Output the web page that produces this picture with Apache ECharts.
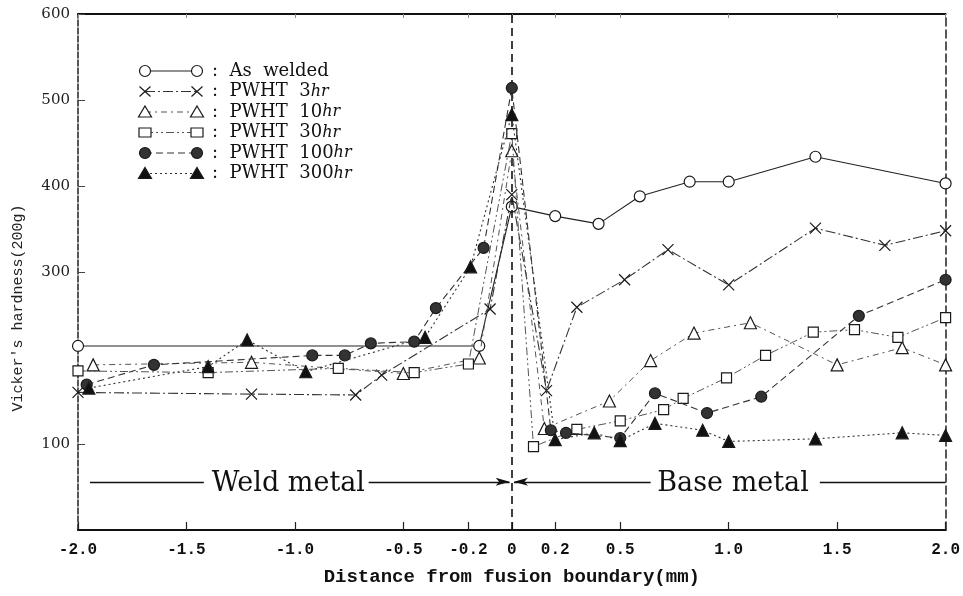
<!DOCTYPE html>
<html>
<head>
<meta charset="utf-8">
<script src="https://cdn.jsdelivr.net/npm/echarts@6/dist/echarts.min.js"></script>
<style>
  html, body { margin: 0; padding: 0; background: #fff; }
  #chart { width: 963px; height: 596px; }
</style>
</head>
<body>
<div id="chart"></div>
<script>
// Axis ticks
const xTicks = [-2, -1.5, -1, -0.5, -0.2, 0, 0.2, 0.5, 1, 1.5, 2];
const yTicks = [100, 300, 400, 500, 600];

// Hardness profiles across the fusion boundary (distance in mm, HV 200g)
const asWeldedX = [-2.0, -0.15, 0, 0.2, 0.4, 0.59, 0.82, 1.0, 1.4, 2.0];
const asWeldedY = [214, 214, 376, 365, 356, 388, 405, 405, 434, 403];

const pwht3X = [-2.0, -1.2, -0.72, -0.6, -0.1, 0, 0.16, 0.3, 0.52, 0.72, 1.0, 1.4, 1.72, 2.0];
const pwht3Y = [160, 158, 157, 180, 257, 390, 162, 259, 291, 326, 285, 351, 331, 348];

const pwht10X = [-1.93, -1.2, -0.5, -0.15, 0, 0.15, 0.45, 0.64, 0.84, 1.1, 1.5, 1.8, 2.0];
const pwht10Y = [192, 195, 182, 200, 441, 118, 150, 197, 229, 241, 192, 212, 192];

const pwht30X = [-2.0, -1.4, -0.8, -0.45, -0.2, 0, 0.1, 0.3, 0.5, 0.7, 0.79, 0.99, 1.17, 1.39, 1.58, 1.78, 2.0];
const pwht30Y = [185, 183, 188, 183, 193, 461, 97, 117, 127, 140, 153, 177, 203, 230, 233, 224, 247];

const pwht100X = [-1.96, -1.65, -0.92, -0.77, -0.65, -0.45, -0.35, -0.13, 0, 0.18, 0.25, 0.5, 0.66, 0.9, 1.15, 1.6, 2.0];
const pwht100Y = [169, 192, 203, 203, 217, 219, 258, 328, 514, 116, 113, 107, 159, 136, 155, 249, 291];

const pwht300X = [-1.95, -1.4, -1.22, -0.95, -0.4, -0.19, 0, 0.2, 0.38, 0.5, 0.66, 0.88, 1.0, 1.4, 1.8, 2.0];
const pwht300Y = [165, 190, 221, 184, 224, 306, 483, 105, 113, 104, 124, 116, 103, 106, 113, 110];

const legendLabels = ['As welded', 'PWHT  3', 'PWHT  10', 'PWHT  30', 'PWHT  100', 'PWHT  300'];

const INK = '#1a1a1a';
const crossPath = 'path://M0,0L10,10M10,0L0,10';

const styles = [
  { symbol: 'circle', size: 11, fill: '#fff', dash: 'solid', lineColor: '#222', width: 1.1 },
  { symbol: crossPath, size: 11, fill: 'none', dash: [10, 3, 2, 3], lineColor: '#333', width: 1.1 },
  { symbol: 'triangle', size: 12, fill: '#fff', dash: [6, 4, 2, 4], lineColor: '#555', width: 1 },
  { symbol: 'rect', size: 10, fill: '#fff', dash: [8, 3, 2, 3, 2, 3], lineColor: '#555', width: 1 },
  { symbol: 'circle', size: 11, fill: '#333', dash: [7, 4], lineColor: '#333', width: 1.1 },
  { symbol: 'triangle', size: 12, fill: '#111', dash: [2, 3], lineColor: '#333', width: 1.1 }
];

const xs = [asWeldedX, pwht3X, pwht10X, pwht30X, pwht100X, pwht300X];
const ys = [asWeldedY, pwht3Y, pwht10Y, pwht30Y, pwht100Y, pwht300Y];

const zip = (a, b) => a.map((v, i) => [v, b[i]]);

const series = xs.map((x, i) => {
  const s = styles[i];
  return {
    name: legendLabels[i],
    type: 'line',
    data: zip(x, ys[i]),
    symbol: s.symbol,
    symbolSize: s.size,
    showSymbol: true,
    showAllSymbol: true,
    lineStyle: { color: s.lineColor, width: s.width, type: s.dash },
    itemStyle: { color: s.fill, borderColor: INK, borderWidth: 1.2 },
    z: 3 + i,
    animation: false
  };
});

// Region annotations: fusion boundary, weld / base metal bands
const bandY = 56;
series.push({
  name: 'regions',
  type: 'line',
  data: [],
  silent: true,
  animation: false,
  markLine: {
    silent: true,
    symbol: ['none', 'none'],
    label: { show: false },
    animation: false,
    data: [
      [{ xAxis: 0, yAxis: 0, lineStyle: { type: [8, 5], width: 1.6, color: '#111' } },
       { xAxis: 0, yAxis: 600 }],
      [{ coord: [-1.945, bandY], lineStyle: { type: 'solid', width: 1.3, color: '#111' } },
       { coord: [-1.42, bandY] }],
      [{ coord: [-0.66, bandY], lineStyle: { type: 'solid', width: 1.3, color: '#111' } },
       { coord: [-0.01, bandY], symbol: 'arrow', symbolSize: [6, 14] }],
      [{ coord: [0.01, bandY], symbol: 'arrow', symbolSize: [6, 14], lineStyle: { type: 'solid', width: 1.3, color: '#111' } },
       { coord: [0.64, bandY] }],
      [{ coord: [1.42, bandY], lineStyle: { type: 'solid', width: 1.3, color: '#111' } },
       { coord: [2.0, bandY] }]
    ]
  },
  markPoint: {
    silent: true,
    animation: false,
    symbol: 'circle',
    symbolSize: 1,
    itemStyle: { color: 'rgba(0,0,0,0)' },
    label: {
      show: true,
      position: 'inside',
      color: '#111',
      fontFamily: 'DejaVu Serif',
      fontSize: 27
    },
    data: [
      { coord: [-1.03, bandY - 2], value: 'Weld metal', label: { formatter: 'Weld metal' } },
      { coord: [1.02, bandY - 2], value: 'Base metal', label: { formatter: 'Base metal' } }
    ]
  }
});

// Legend drawn as marker—line—marker samples
const legendGraphics = [];
const lgX1 = 145, lgX2 = 197, lgTop = 71, lgStep = 20.5;
function markerShape(i, cx, cy) {
  const s = styles[i];
  const stroke = INK;
  if (i === 0 || i === 4) {
    return [{ type: 'circle', shape: { cx, cy, r: 5.5 }, style: { fill: s.fill, stroke, lineWidth: 1.2 }, z: 10 }];
  }
  if (i === 1) {
    return [
      { type: 'line', shape: { x1: cx - 5.5, y1: cy - 5, x2: cx + 5.5, y2: cy + 5 }, style: { stroke, lineWidth: 1.2 }, z: 10 },
      { type: 'line', shape: { x1: cx - 5.5, y1: cy + 5, x2: cx + 5.5, y2: cy - 5 }, style: { stroke, lineWidth: 1.2 }, z: 10 }
    ];
  }
  if (i === 2 || i === 5) {
    return [{ type: 'polygon', shape: { points: [[cx, cy - 6], [cx + 6.5, cy + 5], [cx - 6.5, cy + 5]] }, style: { fill: s.fill, stroke, lineWidth: 1.2 }, z: 10 }];
  }
  return [{ type: 'rect', shape: { x: cx - 6, y: cy - 4.5, width: 12, height: 9 }, style: { fill: s.fill, stroke, lineWidth: 1.2 }, z: 10 }];
}
styles.forEach((s, i) => {
  const cy = lgTop + i * lgStep;
  legendGraphics.push({
    type: 'line',
    shape: { x1: lgX1, y1: cy, x2: lgX2, y2: cy },
    style: { stroke: s.lineColor, lineWidth: 1.2, lineDash: s.dash === 'solid' ? null : s.dash },
    z: 9
  });
  legendGraphics.push(...markerShape(i, lgX1, cy), ...markerShape(i, lgX2, cy));
  const label = i === 0
    ? ':  {n|As  welded}'
    : ':  {n|' + legendLabels[i] + '}{i|hr}';
  legendGraphics.push({
    type: 'text',
    x: 212, y: cy,
    style: {
      text: label,
      fill: '#111',
      font: '18px "DejaVu Serif"',
      verticalAlign: 'middle',
      rich: {
        n: { fontFamily: 'DejaVu Serif', fontSize: 18, fill: '#111' },
        i: { fontFamily: 'DejaVu Serif', fontSize: 16, fontStyle: 'italic', fill: '#111' }
      }
    },
    z: 10
  });
});

// Rotated y-axis title
legendGraphics.push({
  type: 'text',
  x: 18, y: 308,
  rotation: Math.PI / 2,
  style: {
    text: "Vicker's hardness(200g)",
    font: '15px "Liberation Mono"',
    fill: '#222',
    align: 'center',
    verticalAlign: 'middle'
  }
});

const chart = echarts.init(document.getElementById('chart'), null, { renderer: 'canvas' });
chart.setOption({
  animation: false,
  backgroundColor: '#fff',
  grid: { left: 78, right: 15, top: 14, bottom: 66, containLabel: false },
  xAxis: [
    {
      type: 'value', min: -2, max: 2, position: 'bottom',
      name: 'Distance from fusion boundary(mm)',
      nameLocation: 'middle', nameGap: 38,
      nameTextStyle: { fontFamily: 'Liberation Mono', fontWeight: 'bold', fontSize: 19, color: '#111' },
      axisLine: { show: true, onZero: false, lineStyle: { color: '#111', width: 2 } },
      axisTick: { show: true, inside: true, length: 8, customValues: xTicks, lineStyle: { color: '#222', width: 1.2 } },
      axisLabel: {
        customValues: xTicks,
        margin: 12,
        fontFamily: 'Liberation Mono', fontWeight: 'bold', fontSize: 16, color: '#111',
        formatter: v => (Math.abs(v) < 1e-9 ? '0' : v.toFixed(1))
      },
      splitLine: { show: false }
    },
    {
      type: 'value', min: -2, max: 2, position: 'top',
      axisLine: { show: true, onZero: false, lineStyle: { color: '#111', width: 2 } },
      axisTick: { show: true, inside: true, length: 4, customValues: xTicks, lineStyle: { color: '#888', width: 1 } },
      axisLabel: { show: false },
      splitLine: { show: false }
    }
  ],
  yAxis: [
    {
      type: 'value', min: 0, max: 600, position: 'left',
      axisLine: { show: true, onZero: false, lineStyle: { color: '#222', width: 1.5, type: [6, 2] } },
      axisTick: { show: true, inside: true, length: 7, customValues: yTicks, lineStyle: { color: '#444', width: 1 } },
      axisLabel: {
        customValues: yTicks,
        margin: 8,
        fontFamily: 'DejaVu Serif', fontSize: 15, color: '#222'
      },
      splitLine: { show: false }
    },
    {
      type: 'value', min: 0, max: 600, position: 'right',
      axisLine: { show: true, onZero: false, lineStyle: { color: '#222', width: 1.5, type: [8, 4] } },
      axisTick: { show: false },
      axisLabel: { show: false },
      splitLine: { show: false }
    }
  ],
  graphic: legendGraphics,
  series: series
});
</script>
</body>
</html>
